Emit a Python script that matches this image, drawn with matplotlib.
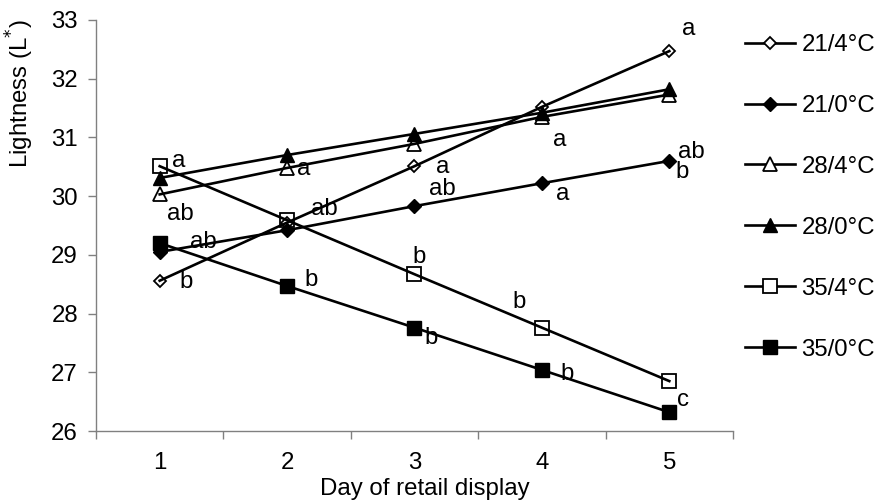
import matplotlib
matplotlib.use("Agg")
import matplotlib.pyplot as plt
from matplotlib.ticker import FixedLocator
from matplotlib.lines import Line2D

# ---- data ----
days = [1, 2, 3, 4, 5]
t21_4 = [28.56, 29.55, 30.51, 31.52, 32.47]
t21_0 = [29.05, 29.42, 29.83, 30.22, 30.60]
t28_4 = [30.03, 30.48, 30.89, 31.35, 31.73]
t28_0 = [30.31, 30.70, 31.06, 31.42, 31.82]
t35_4 = [30.51, 29.59, 28.67, 27.76, 26.85]
t35_0 = [29.20, 28.47, 27.76, 27.04, 26.32]
series_labels = ["21/4°C", "21/0°C", "28/4°C", "28/0°C", "35/4°C", "35/0°C"]
y_ticks = [26, 27, 28, 29, 30, 31, 32, 33]

# significance letters (text) and their placement (layout)
sig_text = ["a", "ab", "ab", "b",
            "a", "ab", "b",
            "a", "ab", "b", "b",
            "a", "a", "b", "b",
            "a", "ab", "b", "c"]
sig_xy = [(1.15, 30.60), (1.165, 29.70), (1.34, 29.22), (1.21, 28.54),
          (2.13, 30.46), (2.29, 29.78), (2.19, 28.57),
          (3.22, 30.50), (3.22, 30.12), (3.04, 28.97), (3.13, 27.58),
          (4.14, 30.96), (4.16, 30.04), (3.82, 28.20), (4.20, 26.97),
          (5.15, 32.85), (5.17, 30.76), (5.10, 30.41), (5.11, 26.53)]

plt.rcParams['font.family'] = ['Liberation Sans', 'DejaVu Sans']
FS = 17.3

fig = plt.figure(figsize=(8.78, 5.0), dpi=100)
ax = fig.add_axes([96/878, 69/500, (733-96)/878, (431-20)/500])

styles = [
    dict(marker='D', ms=6.5, mfc='none', mec='black', mew=1.3),
    dict(marker='D', ms=7.5, mfc='black', mec='black', mew=1.0),
    dict(marker='^', ms=9.5, mfc='none', mec='black', mew=1.3),
    dict(marker='^', ms=9.5, mfc='black', mec='black', mew=1.0),
    dict(marker='s', ms=9.5, mfc='none', mec='black', mew=1.3),
    dict(marker='s', ms=9.5, mfc='black', mec='black', mew=1.0),
]
all_series = [t21_4, t21_0, t28_4, t28_0, t35_4, t35_0]
handles = []
for vals, lab, st in zip(all_series, series_labels, styles):
    ax.plot(days, vals, color='black', lw=1.9, label=lab, **st)
    hst = dict(st)
    if hst['mfc'] == 'none':
        hst['mfc'] = 'white'
    handles.append(Line2D([], [], color='black', lw=1.9, label=lab, **hst))

for txt, (x, y) in zip(sig_text, sig_xy):
    ax.text(x, y, txt, fontsize=FS, ha='center', va='center', color='black')

ax.set_xlim(0.5, 5.5)
ax.set_ylim(26, 33)
ax.set_yticks(y_ticks)
ax.set_xticks(days)
ax.xaxis.set_minor_locator(FixedLocator([0.5, 1.5, 2.5, 3.5, 4.5, 5.5]))
ax.tick_params(axis='x', which='major', length=0, pad=15, labelsize=FS)
ax.tick_params(axis='x', which='minor', length=6, width=1, color='#808080', direction='out')
ax.tick_params(axis='y', which='major', length=6, width=1, color='#808080', direction='out',
               pad=7, labelsize=FS)
for s in ['top', 'right']:
    ax.spines[s].set_visible(False)
for s in ['left', 'bottom']:
    ax.spines[s].set_color('#808080')
    ax.spines[s].set_linewidth(1.0)

ax.set_xlabel("Day of retail display", fontsize=FS)
ax.xaxis.set_label_coords(0.516, -0.115)
ax.set_ylabel("Lightness (L$^{*}$)", fontsize=FS)
ax.yaxis.set_label_coords(-0.094, 0.82)

leg = fig.legend(handles=handles, loc='upper left', bbox_to_anchor=(745/878, 1 - 34/500),
                 frameon=False, fontsize=FS, handlelength=2.1, handletextpad=0.25,
                 labelspacing=1.62, borderaxespad=0, borderpad=0)

fig.savefig("out.png", dpi=100)
